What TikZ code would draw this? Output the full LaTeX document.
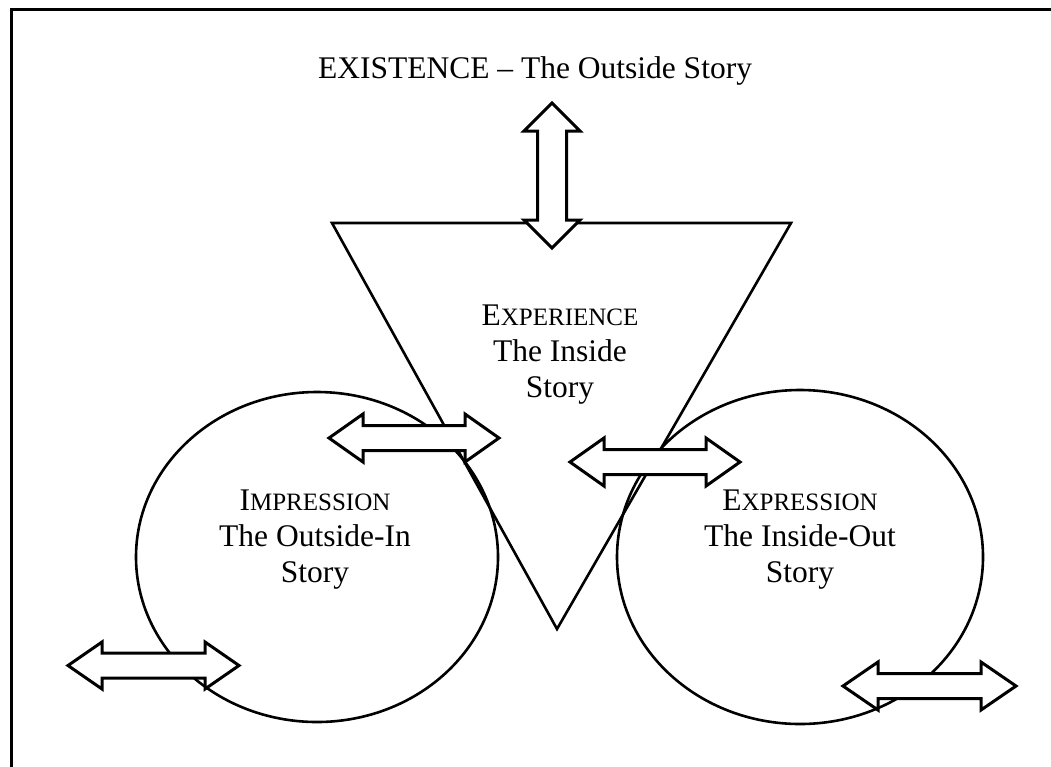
\documentclass[tikz,border=0pt]{standalone}
\usepackage{fontspec}
\setmainfont{Liberation Serif}
\usetikzlibrary{shapes.geometric}
% reduced-size capitals used for the small-caps headings
\newcommand\smallcapsize[1]{{\fontsize{25}{36}\selectfont #1}}
\tikzset{
  outline/.style={line width=2.6pt},
  labeltext/.style={font=\fontsize{31.5}{36}\selectfont, align=center, inner sep=0pt, anchor=north},
  arrowline/.style={line width=3pt, fill=white, line join=miter},
  % double-headed block arrow: half length, head length, head half-width, shaft half-width
  pics/dblarrow/.style n args={4}{code={
    \draw[arrowline] (-#1,0) -- (-#1+#2,#3) -- (-#1+#2,#4) -- (#1-#2,#4) -- (#1-#2,#3)
      -- (#1,0) -- (#1-#2,-#3) -- (#1-#2,-#4) -- (-#1+#2,-#4) -- (-#1+#2,-#3) -- cycle;
  }}
}
\begin{document}
\begin{tikzpicture}[x=1pt,y=-1pt]
\useasboundingbox (0,0) rectangle (1051,766);
\fill[white] (0,0) rectangle (1051,766);
% page frame (open at right and bottom)
\draw[line width=3pt] (11,780) -- (11,9) -- (1070,9);

% the two stories as ellipses
\node[ellipse, draw, outline, inner sep=0pt, minimum width=362pt, minimum height=330pt] (leftoval) at (317,557) {};
\node[ellipse, draw, outline, inner sep=0pt, minimum width=366pt, minimum height=334pt] (rightoval) at (800,557) {};

% inverted triangle
\coordinate (tl) at (332,223);
\coordinate (tr) at (791,223);
\coordinate (tb) at (557,629);
\draw[outline, line join=miter] (tl) -- (tr) -- (tb) -- cycle;

% labels
\node[labeltext, anchor=base] (title) at (535,78) {EXISTENCE -- The Outside Story};
\node[labeltext] (experience) at (560,305) {E\smallcapsize{XPERIENCE}\\The Inside\\Story};
\node[labeltext] (impression) at (315,490) {I\smallcapsize{MPRESSION}\\The Outside-In\\Story};
\node[labeltext] (expression) at (800,490) {E\smallcapsize{XPRESSION}\\The Inside-Out\\Story};

% exchange arrows
\pic[rotate=90] at (552,175.5) {dblarrow={72.5}{28}{28}{14.5}};
\pic at (414,438) {dblarrow={85}{34}{24}{12.5}};
\pic at (655,462) {dblarrow={85}{34}{24}{12.5}};
\pic at (153.5,665.5) {dblarrow={85.5}{34}{23.5}{12.5}};
\pic at (929.5,686) {dblarrow={86.5}{35}{24}{12.5}};
\end{tikzpicture}
\end{document}
